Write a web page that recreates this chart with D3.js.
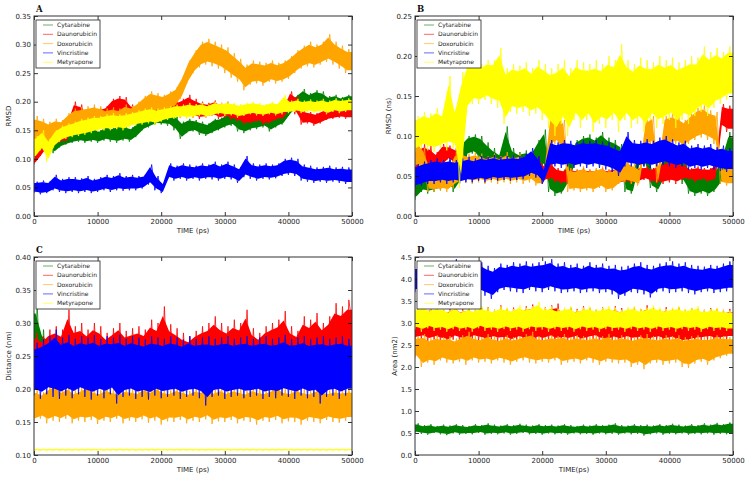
<!DOCTYPE html>
<html><head><meta charset="utf-8">
<script src="https://cdn.jsdelivr.net/npm/d3@7"></script>
<style>body{margin:0;background:#fff} svg{display:block}</style>
</head><body>
<svg id="chart" width="751" height="483"></svg>
<script>
// ---------- DATA ----------
// sample times (ps): one reading every 500 ps, 0 .. 50000 (readings alternate between low and high swings)
const times = d3.range(0, 50001, 500);
const seriesNames = ["Cytarabine", "Daunorubicin", "Doxorubicin", "Vincristine", "Metyrapone"];
const xTickValues = [0, 10000, 20000, 30000, 40000, 50000];
const yTicksA = [0, 0.05, 0.10, 0.15, 0.20, 0.25, 0.30, 0.35];
const yTicksB = [0, 0.05, 0.10, 0.15, 0.20, 0.25];
const yTicksC = [0.10, 0.15, 0.20, 0.25, 0.30, 0.35, 0.40];
const yTicksD = [0, 0.5, 1.0, 1.5, 2.0, 2.5, 3.0, 3.5, 4.0, 4.5];

// Panel A: RMSD
const A_cytarabine = [0.120,0.150,0.125,0.145,0.118,0.150,0.110,0.138,0.120,0.140,0.125,0.142,0.128,0.148,0.130,0.150,0.128,0.152,0.130,0.155,
0.128,0.150,0.132,0.158,0.130,0.155,0.128,0.160,0.132,0.158,0.130,0.155,0.138,0.165,0.150,0.172,0.155,0.178,0.160,0.182,
0.160,0.180,0.158,0.185,0.150,0.175,0.135,0.165,0.145,0.170,0.148,0.168,0.142,0.165,0.140,0.162,0.145,0.170,0.150,0.172,
0.155,0.178,0.158,0.182,0.148,0.175,0.145,0.172,0.150,0.178,0.152,0.180,0.155,0.182,0.148,0.176,0.155,0.178,0.160,0.185,
0.175,0.205,0.188,0.212,0.190,0.222,0.188,0.215,0.192,0.220,0.188,0.218,0.185,0.210,0.190,0.212,0.188,0.208,0.190,0.212,
0.195];
const A_daunorubicin = [0.090,0.125,0.105,0.135,0.120,0.150,0.125,0.148,0.128,0.150,0.130,0.165,0.150,0.200,0.160,0.195,0.158,0.185,0.160,0.190,
0.162,0.188,0.165,0.192,0.170,0.205,0.175,0.210,0.172,0.208,0.165,0.195,0.162,0.190,0.168,0.195,0.178,0.212,0.180,0.210,
0.175,0.205,0.178,0.208,0.175,0.200,0.172,0.205,0.175,0.212,0.172,0.205,0.170,0.200,0.172,0.198,0.175,0.202,0.170,0.198,
0.172,0.200,0.168,0.195,0.165,0.190,0.160,0.185,0.162,0.182,0.165,0.185,0.160,0.182,0.162,0.185,0.168,0.188,0.170,0.192,
0.185,0.218,0.178,0.210,0.160,0.185,0.162,0.182,0.158,0.180,0.162,0.185,0.168,0.185,0.170,0.190,0.172,0.188,0.170,0.192,
0.175];
const A_doxorubicin = [0.120,0.175,0.130,0.170,0.125,0.165,0.130,0.170,0.135,0.168,0.140,0.180,0.150,0.188,0.148,0.190,0.152,0.192,0.150,0.195,
0.155,0.192,0.150,0.188,0.155,0.190,0.152,0.188,0.158,0.195,0.160,0.192,0.165,0.200,0.175,0.210,0.180,0.218,0.182,0.215,
0.180,0.212,0.185,0.218,0.190,0.225,0.205,0.245,0.232,0.272,0.250,0.290,0.260,0.305,0.265,0.310,0.262,0.305,0.258,0.300,
0.250,0.295,0.242,0.285,0.235,0.275,0.220,0.265,0.230,0.272,0.232,0.270,0.228,0.268,0.235,0.272,0.232,0.268,0.235,0.272,
0.240,0.280,0.250,0.290,0.258,0.298,0.262,0.305,0.260,0.300,0.265,0.305,0.270,0.318,0.265,0.305,0.258,0.298,0.250,0.292,
0.258];
const A_vincristine = [0.040,0.060,0.038,0.062,0.040,0.060,0.045,0.072,0.042,0.065,0.040,0.068,0.042,0.068,0.040,0.066,0.042,0.070,0.040,0.065,
0.042,0.068,0.045,0.072,0.042,0.070,0.045,0.075,0.044,0.070,0.045,0.072,0.045,0.070,0.048,0.072,0.055,0.090,0.045,0.070,
0.040,0.058,0.065,0.092,0.062,0.088,0.065,0.092,0.062,0.090,0.065,0.088,0.062,0.092,0.065,0.090,0.064,0.095,0.062,0.090,
0.065,0.095,0.064,0.090,0.058,0.085,0.068,0.105,0.065,0.092,0.062,0.090,0.065,0.092,0.064,0.090,0.066,0.092,0.070,0.100,
0.072,0.102,0.070,0.100,0.062,0.090,0.060,0.088,0.058,0.085,0.060,0.086,0.058,0.088,0.060,0.085,0.058,0.086,0.056,0.085,
0.065];
const A_metyrapone = [0.100,0.140,0.115,0.150,0.095,0.135,0.120,0.150,0.130,0.158,0.135,0.162,0.138,0.165,0.140,0.170,0.142,0.172,0.145,0.175,
0.148,0.175,0.150,0.178,0.150,0.180,0.152,0.178,0.150,0.180,0.155,0.182,0.158,0.185,0.160,0.188,0.162,0.190,0.160,0.188,
0.165,0.190,0.168,0.192,0.170,0.195,0.172,0.195,0.170,0.198,0.172,0.196,0.175,0.198,0.172,0.195,0.175,0.200,0.178,0.198,
0.175,0.200,0.176,0.198,0.172,0.196,0.175,0.198,0.178,0.200,0.176,0.198,0.175,0.196,0.178,0.200,0.176,0.198,0.178,0.212,
0.180,0.202,0.182,0.205,0.180,0.202,0.182,0.204,0.180,0.202,0.182,0.205,0.178,0.202,0.182,0.206,0.180,0.204,0.182,0.206,
0.190];

// Panel B: RMSD (ns)
const B_cytarabine = [0.020,0.060,0.030,0.055,0.028,0.060,0.030,0.065,0.032,0.062,0.035,0.070,0.030,0.065,0.040,0.095,0.075,0.100,0.078,0.102,
0.070,0.100,0.060,0.092,0.050,0.085,0.045,0.080,0.055,0.112,0.050,0.085,0.048,0.080,0.050,0.082,0.052,0.080,0.055,0.095,
0.060,0.108,0.030,0.060,0.025,0.050,0.028,0.052,0.040,0.078,0.065,0.095,0.068,0.100,0.070,0.102,0.068,0.098,0.070,0.105,
0.065,0.098,0.062,0.095,0.060,0.090,0.030,0.055,0.028,0.052,0.060,0.090,0.062,0.092,0.035,0.060,0.030,0.058,0.045,0.080,
0.050,0.088,0.045,0.085,0.040,0.080,0.028,0.052,0.025,0.050,0.028,0.055,0.025,0.050,0.030,0.058,0.040,0.075,0.050,0.105,
0.060];
const B_daunorubicin = [0.045,0.085,0.050,0.090,0.048,0.088,0.050,0.080,0.060,0.090,0.070,0.088,0.065,0.085,0.045,0.075,0.045,0.072,0.048,0.075,
0.045,0.072,0.048,0.075,0.045,0.072,0.048,0.075,0.045,0.070,0.048,0.072,0.045,0.075,0.048,0.072,0.050,0.080,0.045,0.075,
0.042,0.065,0.045,0.068,0.042,0.060,0.040,0.058,0.040,0.060,0.042,0.058,0.040,0.060,0.042,0.058,0.040,0.058,0.042,0.060,
0.040,0.058,0.042,0.060,0.040,0.058,0.042,0.060,0.040,0.058,0.042,0.062,0.045,0.062,0.042,0.060,0.040,0.065,0.040,0.068,
0.042,0.070,0.040,0.068,0.045,0.065,0.045,0.060,0.042,0.062,0.045,0.060,0.042,0.060,0.045,0.065,0.110,0.140,0.105,0.138,
0.115];
const B_doxorubicin = [0.060,0.095,0.055,0.085,0.030,0.065,0.030,0.060,0.032,0.058,0.030,0.062,0.035,0.080,0.040,0.082,0.042,0.078,0.040,0.080,
0.042,0.078,0.040,0.075,0.042,0.078,0.040,0.075,0.042,0.080,0.040,0.076,0.042,0.078,0.040,0.075,0.042,0.080,0.038,0.060,
0.040,0.052,0.085,0.125,0.090,0.132,0.080,0.120,0.030,0.060,0.032,0.058,0.030,0.062,0.032,0.058,0.030,0.060,0.035,0.062,
0.030,0.058,0.032,0.060,0.040,0.062,0.042,0.070,0.040,0.065,0.038,0.060,0.085,0.120,0.090,0.125,0.042,0.065,0.085,0.125,
0.088,0.128,0.090,0.125,0.085,0.120,0.090,0.128,0.095,0.135,0.098,0.138,0.095,0.132,0.090,0.130,0.040,0.060,0.038,0.062,
0.045];
const B_vincristine = [0.035,0.065,0.038,0.068,0.040,0.070,0.040,0.072,0.042,0.070,0.040,0.072,0.042,0.070,0.040,0.072,0.042,0.074,0.042,0.072,
0.044,0.075,0.042,0.074,0.045,0.076,0.044,0.074,0.045,0.075,0.044,0.076,0.045,0.075,0.046,0.078,0.050,0.085,0.048,0.075,
0.040,0.060,0.060,0.095,0.062,0.092,0.060,0.095,0.062,0.094,0.060,0.092,0.062,0.095,0.060,0.094,0.062,0.095,0.060,0.093,
0.058,0.092,0.055,0.088,0.050,0.085,0.062,0.105,0.062,0.095,0.060,0.094,0.062,0.096,0.060,0.094,0.062,0.098,0.064,0.100,
0.062,0.096,0.060,0.092,0.062,0.094,0.058,0.088,0.060,0.090,0.058,0.088,0.060,0.090,0.058,0.086,0.056,0.088,0.055,0.085,
0.070];
const B_metyrapone = [0.080,0.125,0.085,0.130,0.082,0.128,0.080,0.135,0.085,0.130,0.082,0.175,0.085,0.135,0.035,0.180,0.130,0.195,0.140,0.200,
0.140,0.190,0.145,0.195,0.140,0.195,0.135,0.210,0.115,0.185,0.130,0.190,0.128,0.188,0.130,0.192,0.125,0.185,0.128,0.195,
0.120,0.190,0.110,0.185,0.100,0.190,0.115,0.195,0.100,0.185,0.120,0.195,0.110,0.192,0.120,0.190,0.105,0.195,0.115,0.190,
0.110,0.200,0.120,0.195,0.105,0.215,0.120,0.195,0.110,0.190,0.115,0.198,0.105,0.195,0.120,0.192,0.110,0.200,0.115,0.195,
0.120,0.198,0.110,0.192,0.120,0.195,0.115,0.200,0.125,0.198,0.130,0.212,0.125,0.205,0.135,0.210,0.140,0.205,0.145,0.212,
0.160];

// Panel C: Distance (nm)
const C_cytarabine = [0.200,0.330,0.210,0.290,0.205,0.280,0.200,0.275,0.205,0.270,0.200,0.272,0.205,0.268,0.200,0.270,0.205,0.272,0.200,0.268,
0.205,0.270,0.200,0.272,0.205,0.268,0.200,0.270,0.205,0.275,0.200,0.268,0.205,0.270,0.200,0.272,0.205,0.270,0.200,0.268,
0.205,0.272,0.200,0.270,0.205,0.268,0.200,0.270,0.205,0.272,0.200,0.268,0.205,0.285,0.200,0.270,0.205,0.268,0.200,0.272,
0.205,0.270,0.200,0.268,0.205,0.270,0.200,0.272,0.205,0.268,0.200,0.270,0.205,0.272,0.200,0.268,0.205,0.270,0.200,0.272,
0.205,0.268,0.200,0.270,0.205,0.272,0.200,0.268,0.205,0.270,0.200,0.272,0.205,0.268,0.200,0.270,0.205,0.272,0.200,0.268,
0.230];
const C_daunorubicin = [0.210,0.285,0.205,0.280,0.210,0.290,0.205,0.295,0.200,0.290,0.205,0.320,0.210,0.295,0.200,0.300,0.205,0.290,0.210,0.300,
0.205,0.295,0.200,0.285,0.205,0.292,0.210,0.300,0.205,0.288,0.200,0.292,0.205,0.295,0.210,0.290,0.205,0.305,0.200,0.300,
0.205,0.325,0.210,0.298,0.205,0.292,0.200,0.285,0.205,0.280,0.210,0.288,0.205,0.295,0.200,0.300,0.205,0.310,0.210,0.300,
0.205,0.295,0.200,0.305,0.205,0.300,0.210,0.320,0.205,0.292,0.200,0.285,0.205,0.295,0.210,0.300,0.205,0.305,0.200,0.318,
0.205,0.295,0.210,0.288,0.205,0.310,0.200,0.305,0.205,0.315,0.210,0.300,0.205,0.310,0.200,0.330,0.205,0.325,0.210,0.335,
0.300];
const C_doxorubicin = [0.150,0.200,0.155,0.195,0.148,0.205,0.152,0.210,0.150,0.200,0.155,0.205,0.148,0.198,0.152,0.202,0.150,0.208,0.153,0.200,
0.147,0.198,0.152,0.203,0.150,0.200,0.155,0.196,0.148,0.202,0.152,0.200,0.150,0.198,0.154,0.204,0.149,0.200,0.152,0.206,
0.146,0.200,0.151,0.198,0.150,0.203,0.153,0.200,0.148,0.197,0.152,0.202,0.150,0.200,0.154,0.205,0.147,0.199,0.151,0.203,
0.150,0.198,0.153,0.202,0.148,0.200,0.152,0.197,0.150,0.203,0.146,0.200,0.152,0.198,0.150,0.202,0.153,0.206,0.148,0.200,
0.151,0.198,0.150,0.203,0.146,0.200,0.152,0.197,0.150,0.202,0.148,0.200,0.153,0.198,0.150,0.201,0.149,0.199,0.152,0.200,
0.175];
const C_vincristine = [0.190,0.270,0.185,0.275,0.192,0.280,0.188,0.290,0.185,0.278,0.190,0.282,0.186,0.276,0.192,0.280,0.188,0.278,0.184,0.282,
0.190,0.276,0.186,0.280,0.192,0.278,0.178,0.282,0.188,0.276,0.190,0.280,0.185,0.278,0.188,0.275,0.184,0.280,0.190,0.278,
0.186,0.276,0.188,0.280,0.190,0.278,0.185,0.275,0.188,0.280,0.190,0.276,0.186,0.278,0.175,0.280,0.188,0.276,0.190,0.278,
0.185,0.280,0.188,0.276,0.190,0.278,0.186,0.280,0.188,0.276,0.190,0.278,0.185,0.280,0.188,0.276,0.186,0.278,0.190,0.282,
0.188,0.276,0.185,0.278,0.190,0.280,0.186,0.276,0.188,0.278,0.178,0.280,0.188,0.276,0.190,0.278,0.185,0.280,0.190,0.276,
0.230];
const C_metyrapone = [0.107,0.109,0.107,0.109,0.107,0.109,0.107,0.109,0.107,0.109,0.107,0.109,0.107,0.109,0.107,0.109,0.107,0.109,0.107,0.109,
0.107,0.109,0.107,0.109,0.107,0.109,0.107,0.109,0.107,0.109,0.107,0.109,0.107,0.109,0.107,0.109,0.107,0.109,0.107,0.109,
0.107,0.109,0.107,0.109,0.107,0.109,0.107,0.109,0.107,0.109,0.107,0.109,0.107,0.109,0.107,0.109,0.107,0.109,0.107,0.109,
0.107,0.109,0.107,0.109,0.107,0.109,0.107,0.109,0.107,0.109,0.107,0.109,0.107,0.109,0.107,0.109,0.107,0.109,0.107,0.109,
0.107,0.109,0.107,0.109,0.107,0.109,0.107,0.109,0.107,0.109,0.107,0.109,0.107,0.109,0.107,0.109,0.107,0.109,0.107,0.109,
0.108];

// Panel D: Area (nm2)
const D_cytarabine = [0.50,0.72,0.48,0.68,0.46,0.70,0.50,0.66,0.47,0.69,0.45,0.67,0.49,0.70,0.46,0.68,0.48,0.66,0.47,0.70,
0.50,0.68,0.46,0.72,0.48,0.69,0.47,0.67,0.49,0.70,0.46,0.68,0.48,0.71,0.50,0.69,0.47,0.67,0.48,0.70,
0.46,0.68,0.49,0.69,0.47,0.67,0.48,0.70,0.46,0.68,0.49,0.66,0.47,0.69,0.48,0.67,0.46,0.70,0.49,0.68,
0.47,0.69,0.48,0.72,0.46,0.68,0.49,0.67,0.47,0.70,0.48,0.68,0.44,0.69,0.47,0.67,0.49,0.70,0.46,0.68,
0.48,0.71,0.47,0.69,0.49,0.67,0.46,0.70,0.48,0.68,0.47,0.72,0.49,0.69,0.46,0.73,0.48,0.70,0.47,0.74,
0.60];
const D_daunorubicin = [2.60,3.35,2.64,3.30,2.56,3.38,2.62,3.32,2.58,3.30,2.54,3.35,2.62,3.40,2.58,3.32,2.55,3.38,2.64,3.30,
2.60,3.34,2.56,3.36,2.62,3.30,2.57,3.40,2.60,3.32,2.54,3.35,2.62,3.30,2.58,3.38,2.55,3.42,2.60,3.34,
2.57,3.36,2.62,3.40,2.56,3.44,2.60,3.30,2.57,3.35,2.62,3.32,2.55,3.38,2.60,3.34,2.64,3.30,2.57,3.36,
2.54,3.32,2.60,3.38,2.56,3.34,2.62,3.30,2.57,3.36,2.60,3.32,2.54,3.40,2.58,3.34,2.62,3.30,2.56,3.36,
2.60,3.32,2.56,3.35,2.52,3.30,2.54,3.34,2.58,3.32,2.60,3.30,2.62,3.34,2.58,3.32,2.60,3.30,2.62,3.32,
2.70];
const D_doxorubicin = [2.20,2.70,2.00,2.75,2.10,2.65,2.05,2.72,2.15,2.68,2.10,2.70,2.08,2.65,2.12,2.72,2.05,2.80,2.15,2.70,
2.10,2.68,2.12,2.75,2.08,2.70,2.15,2.65,2.10,2.72,2.05,2.68,2.12,2.70,2.15,2.75,2.10,2.80,2.08,2.70,
2.12,2.68,2.10,2.72,2.15,2.70,2.05,2.75,2.10,2.68,2.12,2.72,2.08,2.70,2.15,2.68,2.10,2.72,2.05,2.70,
2.12,2.75,2.10,2.68,2.08,2.72,2.10,2.70,2.00,2.68,2.05,2.72,1.95,2.75,2.08,2.70,2.10,2.68,2.05,2.72,
2.08,2.70,2.10,2.72,2.00,2.68,1.98,2.70,2.08,2.72,2.12,2.68,2.05,2.70,2.15,2.72,2.20,2.70,2.25,2.68,
2.40];
const D_vincristine = [3.70,4.30,3.75,4.35,3.65,4.40,3.80,4.30,3.70,4.35,3.68,4.38,3.75,4.45,3.70,4.32,3.65,4.35,3.72,4.30,
3.68,4.38,3.62,4.30,3.55,4.25,3.70,4.35,3.75,4.32,3.72,4.38,3.70,4.35,3.68,4.40,3.75,4.35,3.72,4.38,
3.70,4.40,3.75,4.45,3.72,4.35,3.68,4.38,3.70,4.32,3.72,4.35,3.68,4.30,3.70,4.38,3.72,4.32,3.68,4.35,
3.70,4.30,3.65,4.32,3.55,4.28,3.62,4.30,3.70,4.35,3.68,4.38,3.65,4.32,3.58,4.30,3.70,4.35,3.72,4.38,
3.68,4.40,3.70,4.35,3.72,4.38,3.68,4.32,3.65,4.30,3.70,4.28,3.72,4.32,3.68,4.30,3.70,4.35,3.72,4.40,
4.00];
const D_metyrapone = [2.85,3.35,2.80,3.40,2.88,3.32,2.82,3.38,2.85,3.35,2.80,3.30,2.86,3.38,2.82,3.28,2.85,3.35,2.80,3.32,
2.88,3.38,2.82,3.35,2.85,3.30,2.80,3.38,2.86,3.35,2.82,3.32,2.85,3.40,2.80,3.35,2.86,3.38,2.82,3.48,
2.85,3.35,2.80,3.38,2.86,3.32,2.82,3.35,2.85,3.38,2.80,3.30,2.86,3.35,2.82,3.38,2.85,3.32,2.80,3.35,
2.86,3.38,2.82,3.35,2.85,3.30,2.80,3.36,2.86,3.38,2.82,3.32,2.85,3.35,2.80,3.40,2.86,3.35,2.82,3.32,
2.85,3.35,2.80,3.38,2.86,3.32,2.82,3.35,2.85,3.38,2.80,3.30,2.86,3.32,2.82,3.35,2.85,3.30,2.82,3.28,
3.10];

// ---------- STYLE / LAYOUT ----------
const seriesColors = ["#008000", "#ff0000", "#ffa500", "#0000ff", "#ffff00"];
const coreInset = 0.12;   // visual: dense core of each noisy trace, leaving swing tips as spikes
const panels = [
  {label: "A", L: 34, T: 16, R: 352, B: 216, yDomain: [0, 0.35], yTicks: yTicksA, fmt: ".2f", yTitle: "RMSD", xTitle: "TIME (ps)", yTitleX: 9,
   data: [A_cytarabine, A_daunorubicin, A_doxorubicin, A_vincristine, A_metyrapone]},
  {label: "B", L: 415, T: 16, R: 733, B: 216, yDomain: [0, 0.25], yTicks: yTicksB, fmt: ".2f", yTitle: "RMSD (ns)", xTitle: "TIME (ps)", yTitleX: 389,
   data: [B_cytarabine, B_daunorubicin, B_doxorubicin, B_vincristine, B_metyrapone]},
  {label: "C", L: 34, T: 257, R: 352, B: 455, yDomain: [0.10, 0.40], yTicks: yTicksC, fmt: ".2f", yTitle: "Distance (nm)", xTitle: "TIME (ps)", yTitleX: 9,
   data: [C_cytarabine, C_daunorubicin, C_doxorubicin, C_vincristine, C_metyrapone]},
  {label: "D", L: 415, T: 257, R: 733, B: 455, yDomain: [0, 4.5], yTicks: yTicksD, fmt: ".1f", yTitle: "Area (nm2)", xTitle: "TIME(ps)", yTitleX: 395,
   data: [D_cytarabine, D_daunorubicin, D_doxorubicin, D_vincristine, D_metyrapone]}
];

const svg = d3.select("#chart");
svg.append("rect").attr("width", 751).attr("height", 483).attr("fill", "#fff");
const FONT = "DejaVu Sans, sans-serif";

// low/high swing pairs -> band (each pair: reading i = low swing, i+1 = high swing)
const envelope = arr => {
  const env = d3.range(0, arr.length - 1, 2).map(i => ({t: times[i + 1] - 250, lo: arr[i], hi: arr[i + 1]}));
  env.unshift({t: times[0], lo: arr[0], hi: arr[1]});
  env.push({t: times[arr.length - 1], lo: arr[arr.length - 3], hi: arr[arr.length - 2]});
  return env;
};

panels.forEach((p, pi) => {
  const x = d3.scaleLinear().domain([0, 50000]).range([p.L, p.R]);
  const y = d3.scaleLinear().domain(p.yDomain).range([p.B, p.T]);
  const g = svg.append("g");
  const clipId = "clip" + pi;
  svg.append("clipPath").attr("id", clipId).append("rect")
    .attr("x", p.L).attr("y", p.T).attr("width", p.R - p.L).attr("height", p.B - p.T);

  const line = d3.line().x((d, i) => x(times[i])).y(d => y(d));
  const band = d3.area().x(d => x(d.t))
    .y0(d => y(d.lo + coreInset * (d.hi - d.lo)))
    .y1(d => y(d.hi - coreInset * (d.hi - d.lo)));
  const lines = g.append("g").attr("clip-path", `url(#${clipId})`);
  p.data.forEach((arr, si) => {
    lines.append("path").attr("d", band(envelope(arr))).attr("fill", seriesColors[si]).attr("stroke", "none");
    lines.append("path").attr("d", line(arr))
      .attr("fill", "none").attr("stroke", seriesColors[si])
      .attr("stroke-width", 0.8).attr("stroke-linejoin", "miter");
  });

  // axes (ticks inward on all sides)
  const styleAxis = sel => {
    sel.select(".domain").remove();
    sel.selectAll("text").attr("font-family", FONT).attr("font-size", 7).attr("fill", "#222");
    sel.selectAll("line").attr("stroke", "#000").attr("stroke-width", 0.8);
  };
  g.append("g").attr("transform", `translate(0,${p.B})`)
    .call(d3.axisBottom(x).tickValues(xTickValues).tickFormat(d3.format("d")).tickSize(-4).tickPadding(3)).call(styleAxis);
  g.append("g").attr("transform", `translate(0,${p.T})`)
    .call(d3.axisTop(x).tickValues(xTickValues).tickFormat("").tickSize(-4)).call(styleAxis);
  g.append("g").attr("transform", `translate(${p.L},0)`)
    .call(d3.axisLeft(y).tickValues(p.yTicks).tickFormat(d3.format(p.fmt)).tickSize(-4).tickPadding(3)).call(styleAxis);
  g.append("g").attr("transform", `translate(${p.R},0)`)
    .call(d3.axisRight(y).tickValues(p.yTicks).tickFormat("").tickSize(-4)).call(styleAxis);

  // frame
  g.append("rect").attr("x", p.L).attr("y", p.T).attr("width", p.R - p.L).attr("height", p.B - p.T)
    .attr("fill", "none").attr("stroke", "#333").attr("stroke-width", 1);

  // titles
  g.append("text").attr("x", (p.L + p.R) / 2).attr("y", p.B + 16.5)
    .attr("text-anchor", "middle").attr("font-family", FONT).attr("font-size", 7).attr("fill", "#222").text(p.xTitle);
  g.append("text").attr("transform", `translate(${p.yTitleX},${(p.T + p.B) / 2}) rotate(-90)`)
    .attr("text-anchor", "middle").attr("dy", "0.35em").attr("font-family", FONT).attr("font-size", 7).attr("fill", "#222").text(p.yTitle);
  g.append("text").attr("x", p.L + 2).attr("y", p.T - 4)
    .attr("font-family", "DejaVu Serif, serif").attr("font-weight", "bold").attr("font-size", 8.5).attr("fill", "#111").text(p.label);

  // legend
  const lg = g.append("g").attr("transform", `translate(${p.L + 2},${p.T + 4})`);
  lg.append("rect").attr("width", 64).attr("height", 48).attr("fill", "#fff").attr("stroke", "#222").attr("stroke-width", 0.8);
  seriesNames.forEach((name, si) => {
    const yy = 5 + si * 9.3;
    lg.append("line").attr("x1", 7).attr("x2", 17).attr("y1", yy).attr("y2", yy)
      .attr("stroke", seriesColors[si]).attr("stroke-width", 1).attr("stroke-opacity", 0.6);
    lg.append("text").attr("x", 21).attr("y", yy).attr("dy", "0.35em")
      .attr("font-family", FONT).attr("font-size", 6).attr("fill", "#222").text(name);
  });
});
</script>
</body></html>
